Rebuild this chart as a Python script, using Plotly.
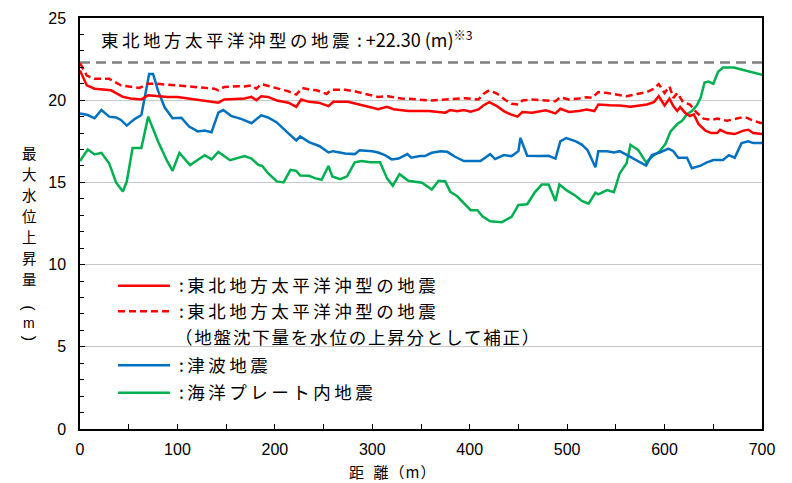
import plotly.graph_objects as go

JP_FONT = "Noto Sans CJK JP"
NUM_FONT = "Liberation Sans"

# 東北地方太平洋沖型の地震
tohoku_x = [0, 7, 15, 32, 38, 44, 52, 63, 70, 78, 90, 100, 111, 121, 131, 142, 148, 162,
            169, 176, 181, 186, 193, 202, 214, 222, 227, 235, 245, 255, 260, 275, 286, 296,
            306, 315, 322, 337, 349, 358, 375, 380, 387, 394, 401, 409, 414, 420, 428, 435,
            442, 449, 454, 464, 478, 488, 493, 502, 512, 520, 528, 532, 544, 554, 565, 573,
            582, 589, 594, 600, 605, 609, 613, 616, 621, 626, 630, 635, 642, 648, 654, 657,
            664, 672, 681, 686, 691, 700]
tohoku_y = [21.8, 20.9, 20.7, 20.6, 20.4, 20.2, 20.1, 20.05, 20.3, 20.25, 20.2, 20.2, 20.1,
            20.0, 19.95, 19.85, 20.05, 20.1, 20.1, 20.2, 20.0, 20.24, 20.2, 19.98, 19.85,
            19.6, 20.04, 19.9, 19.85, 19.64, 19.9, 19.9, 19.76, 19.6, 19.45, 19.6, 19.45,
            19.34, 19.34, 19.34, 19.24, 19.4, 19.33, 19.4, 19.3, 19.44, 19.68, 19.88, 19.64,
            19.34, 19.14, 19.0, 19.28, 19.24, 19.38, 19.2, 19.48, 19.28, 19.34, 19.44, 19.34,
            19.74, 19.7, 19.68, 19.6, 19.68, 19.74, 19.88, 20.24, 19.68, 20.1, 19.64, 19.34,
            19.58, 19.24, 19.04, 19.14, 18.54, 18.15, 18.0, 18.0, 18.2, 18.0, 17.94, 18.15,
            18.2, 18.0, 17.94]

# 東北地方太平洋沖型の地震（地盤沈下量を水位の上昇分として補正）
corrected_x = [0, 7, 15, 30, 42, 61, 70, 78, 100, 121, 138, 142, 148, 162, 169, 176, 181,
               186, 193, 204, 214, 222, 228, 236, 243, 253, 258, 272, 282, 293, 306, 316,
               330, 341, 358, 375, 385, 396, 409, 414, 420, 428, 437, 443, 450, 454, 464,
               481, 488, 493, 502, 512, 520, 526, 532, 541, 551, 561, 572, 582, 589, 594,
               600, 605, 609, 613, 619, 626, 633, 640, 648, 654, 664, 678, 684, 691, 700]
corrected_y = [22.25, 21.5, 21.3, 21.3, 20.9, 20.75, 21.0, 21.0, 20.9, 20.8, 20.7, 20.6,
               20.8, 20.85, 20.84, 20.9, 20.7, 20.98, 20.87, 20.68, 20.54, 20.34, 20.74,
               20.64, 20.6, 20.38, 20.64, 20.64, 20.54, 20.38, 20.2, 20.24, 20.1, 20.08,
               19.98, 20.04, 20.1, 20.12, 20.04, 20.38, 20.6, 20.4, 20.0, 19.78, 19.74,
               19.98, 20.04, 19.98, 19.94, 20.18, 20.04, 20.1, 20.18, 20.14, 20.5, 20.44,
               20.34, 20.24, 20.38, 20.5, 20.7, 20.98, 20.44, 20.84, 20.14, 20.44, 19.88,
               19.74, 19.24, 18.88, 18.8, 18.88, 18.75, 18.94, 18.94, 18.75, 18.6]

# 津波地震
tsunami_x = [0, 8, 15, 22, 30, 37, 42, 48, 56, 63, 71, 75, 80, 87, 95, 104, 112, 121, 128,
             135, 142, 147, 155, 166, 176, 186, 193, 202, 212, 222, 226, 235, 246, 255, 260,
             272, 282, 287, 300, 306, 313, 320, 327, 336, 340, 349, 354, 361, 370, 377, 385,
             394, 411, 415, 421, 426, 435, 443, 450, 452, 459, 471, 481, 488, 493, 499, 509,
             515, 521, 529, 532, 541, 548, 554, 565, 581, 587, 595, 604, 609, 614, 623, 628,
             637, 643, 650, 660, 666, 672, 679, 686, 691, 700]
tsunami_y = [19.2, 19.1, 18.9, 19.4, 19.0, 18.95, 18.8, 18.45, 18.85, 19.1, 21.6, 21.6, 20.6,
             19.55, 18.9, 18.93, 18.4, 18.1, 18.15, 18.05, 19.25, 19.4, 19.05, 18.85, 18.6,
             19.08, 18.95, 18.65, 18.09, 17.55, 17.8, 17.45, 17.2, 16.82, 16.9, 16.76, 16.72,
             16.96, 16.9, 16.82, 16.66, 16.4, 16.45, 16.72, 16.5, 16.6, 16.6, 16.8, 16.9,
             16.86, 16.56, 16.3, 16.3, 16.45, 16.72, 16.42, 16.66, 16.6, 16.9, 17.7, 16.62,
             16.6, 16.62, 16.45, 17.5, 17.7, 17.5, 17.3, 16.96, 15.92, 16.9, 16.9, 16.82,
             16.9, 16.55, 16.02, 16.66, 16.82, 17.05, 16.9, 16.5, 16.5, 15.86, 16.02, 16.2,
             16.36, 16.36, 16.66, 16.5, 17.39, 17.5, 17.39, 17.39]

# 海洋プレート内地震
plate_x = [0, 8, 15, 22, 30, 37, 44, 48, 54, 63, 70, 80, 89, 95, 102, 113, 128, 135, 142,
           154, 169, 176, 183, 187, 193, 202, 209, 216, 222, 226, 235, 241, 248, 255, 259,
           267, 274, 282, 289, 298, 308, 315, 321, 328, 337, 351, 361, 368, 375, 380, 387,
           394, 401, 408, 413, 421, 433, 443, 450, 459, 467, 474, 481, 488, 492, 500, 509,
           515, 522, 529, 532, 541, 548, 554, 561, 565, 573, 581, 587, 595, 601, 606, 613,
           618, 623, 628, 633, 637, 641, 645, 650, 655, 660, 671, 681, 691, 700]
plate_y = [16.3, 17.0, 16.7, 16.8, 16.15, 15.0, 14.45, 15.05, 17.1, 17.1, 19.0, 17.5, 16.35,
           15.7, 16.8, 16.05, 16.65, 16.4, 16.85, 16.35, 16.6, 16.45, 16.06, 16.0, 15.56,
           15.06, 15.0, 15.76, 15.7, 15.42, 15.4, 15.26, 15.16, 16.0, 15.36, 15.2, 15.36,
           16.22, 16.3, 16.22, 16.22, 15.26, 14.8, 15.5, 15.1, 14.98, 14.57, 15.1, 15.06,
           14.43, 14.17, 13.71, 13.31, 13.31, 12.94, 12.64, 12.58, 12.91, 13.63, 13.67,
           14.41, 14.87, 14.87, 13.87, 14.87, 14.5, 14.17, 13.87, 13.71, 14.37, 14.27,
           14.53, 14.41, 15.56, 16.16, 17.29, 16.96, 16.22, 16.56, 16.9, 17.35, 18.09,
           18.55, 18.75, 19.15, 19.34, 19.68, 20.14, 21.07, 21.13, 21.0, 21.73, 21.99,
           21.99, 21.83, 21.67, 21.55]

# 東北地方太平洋沖型の地震の最大値（水平の破線）
max_level = 22.30
x_span = [0, 700]

RED = "#FF0000"
BLUE = "#0070C0"
GREEN = "#00B050"

fig = go.Figure()

fig.add_trace(go.Scatter(x=x_span, y=[max_level, max_level], mode="lines",
                         line=dict(color="#808080", width=2.5, dash="10px,6px"),
                         showlegend=False, hoverinfo="skip"))
fig.add_trace(go.Scatter(x=plate_x, y=plate_y, mode="lines",
                         line=dict(color=GREEN, width=2.5), showlegend=False))
fig.add_trace(go.Scatter(x=tsunami_x, y=tsunami_y, mode="lines",
                         line=dict(color=BLUE, width=2.5), showlegend=False))
fig.add_trace(go.Scatter(x=corrected_x, y=corrected_y, mode="lines",
                         line=dict(color=RED, width=2.5, dash="7px,4px"), showlegend=False))
fig.add_trace(go.Scatter(x=tohoku_x, y=tohoku_y, mode="lines",
                         line=dict(color=RED, width=2.5), showlegend=False))


def px_to_paper(px, py):
    # plot area spans x 80..762 px and y 10..429 px
    return (px - 80) / 682, (429 - py) / 419


def add_text(px, py, text, size, anchor="left", angle=0, family=JP_FONT):
    tx, ty = px_to_paper(px, py)
    fig.add_annotation(xref="paper", yref="paper", x=tx, y=ty, xanchor=anchor,
                       yanchor="middle", showarrow=False, text=text, textangle=angle,
                       font=dict(family=family, size=size, color="black"))


def spaced(text, gap=3.5):
    # the original Japanese font runs wider than Noto, so open up the tracking
    return f"<span style='letter-spacing:{gap}px'>{text}</span>"


# hand-made legend
legend_rows = [
    (283, RED, "solid", ":東北地方太平洋沖型の地震"),
    (309, RED, "7px,4px", ":東北地方太平洋沖型の地震"),
    (364, BLUE, "solid", ":津波地震"),
    (392, GREEN, "solid", ":海洋プレート内地震"),
]
for py, color, dash, label in legend_rows:
    x0, ly = px_to_paper(118, py)
    x1, _ = px_to_paper(170, py)
    fig.add_shape(type="line", xref="paper", yref="paper", x0=x0, x1=x1, y0=ly, y1=ly,
                  line=dict(color=color, width=2.5, dash=dash))
    add_text(177, py - 1, spaced(label), 17.5)
add_text(173, 335, spaced("（地盤沈下量を水位の上昇分として補正）", 1.8), 17.5)

add_text(99, 31, spaced("東北地方太平洋沖型の地震") + " : "
         "<span style='font-size:18px'>+22.30 (m)</span><sup>※3</sup>", 17.5)

# vertical y-axis title, one character per row
ylabel_chars = ["最", "大", "水", "位", "上", "昇", "量"]
ylabel_rows = [147, 168.5, 190, 211.5, 233, 254.5, 276]
for ch, py in zip(ylabel_chars, ylabel_rows):
    add_text(29, py, ch, 14.5, anchor="center")
add_text(29, 306, "(", 16, anchor="center", angle=90, family=NUM_FONT)
add_text(29, 321, "m", 14, anchor="center", family=NUM_FONT)
add_text(29, 336, ")", 16, anchor="center", angle=90, family=NUM_FONT)

add_text(392, 472, spaced("距\u2002離（m）", 1), 15, anchor="center")

fig.update_xaxes(range=[0, 700], dtick=100, ticks="inside", ticklen=5, tickcolor="black",
                 minor=dict(dtick=50, ticks="inside", ticklen=5, tickcolor="black"),
                 showline=True, linecolor="black", linewidth=1.5, mirror=True,
                 showgrid=False, zeroline=False, ticklabelstandoff=5,
                 tickfont=dict(family=NUM_FONT, size=16, color="black"))
fig.update_yaxes(range=[0, 25], dtick=5, ticks="inside", ticklen=5, tickcolor="black",
                 minor=dict(dtick=1, ticks="inside", ticklen=4, tickcolor="black",
                            showgrid=False),
                 showline=True, linecolor="black", linewidth=1.5, mirror=True,
                 showgrid=True, gridcolor="#C8C8C8", gridwidth=1, zeroline=False,
                 ticklabelstandoff=9,
                 tickfont=dict(family=NUM_FONT, size=16, color="black"))

fig.update_layout(width=792, height=483, margin=dict(l=80, r=30, t=10, b=54),
                  plot_bgcolor="white", paper_bgcolor="white", showlegend=False)

# drop the browser's default 8px body margin so the figure sits at the page origin
fig.write_html("out.html", config={"displayModeBar": False},
               post_script="document.body.style.margin = '0';")
